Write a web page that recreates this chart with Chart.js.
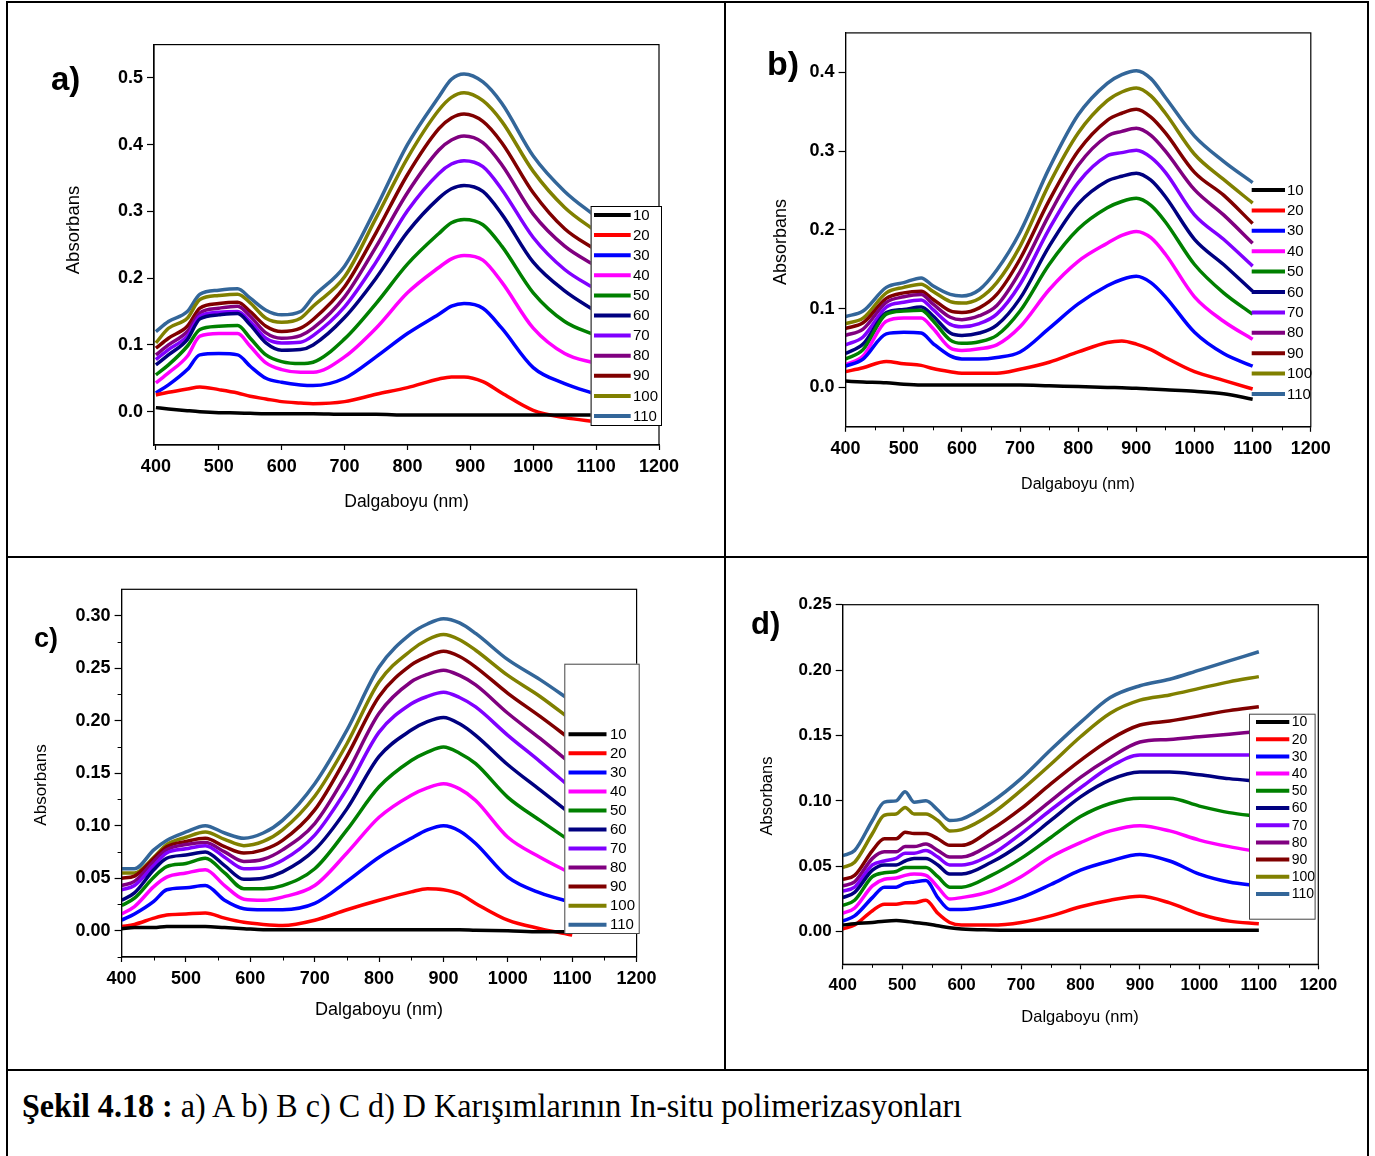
<!DOCTYPE html>
<html>
<head>
<meta charset="utf-8">
<script src="https://cdn.jsdelivr.net/npm/chart.js@4.4.1/dist/chart.umd.min.js"></script>
<style>
  html, body { margin: 0; padding: 0; background: #fff; }
  body { position: relative; width: 1375px; height: 1156px; overflow: hidden; font-family: 'Liberation Sans', Arial, sans-serif; color: #000; }
  canvas { position: absolute; }
  .rule { position: absolute; background: #000; }
  .txt { position: absolute; white-space: nowrap; line-height: 1; }
  .ytitle { transform: translate(-50%, -50%) rotate(-90deg); }
  .xtitle { transform: translate(-50%, -50%); }
  .letter { font-weight: bold; }
  #caption { position: absolute; left: 22px; top: 1090px; font-family: 'Liberation Serif', 'Times New Roman', serif; font-size: 33px; line-height: 1; white-space: nowrap; transform-origin: 0 0; }
</style>
</head>
<body>

<div class="rule" style="left:6px;top:1px;width:2px;height:1155px"></div>
<div class="rule" style="left:6px;top:1px;width:1363px;height:2px"></div>
<div class="rule" style="left:1367px;top:1px;width:2px;height:1155px"></div>
<div class="rule" style="left:724px;top:1px;width:2px;height:1070px"></div>
<div class="rule" style="left:6px;top:556px;width:1363px;height:2px"></div>
<div class="rule" style="left:6px;top:1069px;width:1363px;height:2px"></div>

<canvas id="chartA" width="713" height="551" style="left:10px;top:4px"></canvas>
<canvas id="chartB" width="639" height="551" style="left:727px;top:4px"></canvas>
<canvas id="chartC" width="713" height="509" style="left:10px;top:559px"></canvas>
<canvas id="chartD" width="639" height="509" style="left:727px;top:559px"></canvas>

<div class="txt letter" style="left:51px;top:62px;font-size:33px">a)</div>
<div class="txt letter" style="left:767px;top:46px;font-size:34px">b)</div>
<div class="txt letter" style="left:34px;top:625px;font-size:27px">c)</div>
<div class="txt letter" style="left:751px;top:608px;font-size:31px">d)</div>

<div class="txt ytitle" style="left:72.5px;top:230px;font-size:18.5px">Absorbans</div>
<div class="txt xtitle" style="left:406.5px;top:502px;font-size:17.5px">Dalgaboyu (nm)</div>
<div class="txt ytitle" style="left:780px;top:242px;font-size:18px">Absorbans</div>
<div class="txt xtitle" style="left:1078px;top:484px;font-size:16px">Dalgaboyu (nm)</div>
<div class="txt ytitle" style="left:39.5px;top:785px;font-size:17px">Absorbans</div>
<div class="txt xtitle" style="left:379px;top:1009px;font-size:18px">Dalgaboyu (nm)</div>
<div class="txt ytitle" style="left:765.5px;top:796px;font-size:16.5px">Absorbans</div>
<div class="txt xtitle" style="left:1080px;top:1016px;font-size:16.5px">Dalgaboyu (nm)</div>

<div id="caption"><b>Şekil 4.18 :</b> a) A b) B c) C d) D Karışımlarının In-situ polimerizasyonları</div>

<script>
// Series names (reaction time) and their line colours
const seriesLabels = ['10', '20', '30', '40', '50', '60', '70', '80', '90', '100', '110'];
const seriesColors = ['#000000', '#ff0000', '#0000ff', '#ff00ff', '#008000', '#000080',
                      '#8000ff', '#800080', '#800000', '#808000', '#336699'];

// Tick values
const xTicks = [400, 500, 600, 700, 800, 900, 1000, 1100, 1200];
const xMinor = [450, 550, 650, 750, 850, 950, 1050, 1150];
const yTicksA = [0, 0.1, 0.2, 0.3, 0.4, 0.5];
const yTicksB = [0, 0.1, 0.2, 0.3, 0.4];
const yTicksC = [0, 0.05, 0.10, 0.15, 0.20, 0.25, 0.30];
const yMinorC = [-0.025, 0.025, 0.075, 0.125, 0.175, 0.225, 0.275];
const yTicksD = [0, 0.05, 0.10, 0.15, 0.20, 0.25];

// ---- a) mixture A ----
const wlA = [400, 420, 450, 470, 500, 530, 550, 575, 600, 630, 650, 700, 750, 800, 850, 870, 890, 920, 950, 1000, 1050, 1100];
const a10  = [0.006, 0.004, 0.0015, 0.000, -0.0015, -0.002, -0.0025, -0.003, -0.003, -0.003, -0.003, -0.004, -0.004, -0.005, -0.005, -0.005, -0.005, -0.005, -0.005, -0.005, -0.005, -0.005];
const a20  = [0.025, 0.029, 0.034, 0.037, 0.033, 0.028, 0.023, 0.019, 0.015, 0.013, 0.012, 0.015, 0.026, 0.036, 0.049, 0.052, 0.052, 0.045, 0.028, 0.002, -0.009, -0.015];
const a30  = [0.028, 0.040, 0.063, 0.085, 0.087, 0.085, 0.068, 0.050, 0.044, 0.040, 0.039, 0.050, 0.082, 0.117, 0.146, 0.158, 0.162, 0.155, 0.125, 0.066, 0.042, 0.026];
const a40  = [0.043, 0.058, 0.083, 0.113, 0.117, 0.117, 0.098, 0.073, 0.063, 0.059, 0.059, 0.082, 0.125, 0.178, 0.216, 0.229, 0.234, 0.227, 0.194, 0.125, 0.087, 0.072];
const a50  = [0.055, 0.070, 0.098, 0.123, 0.128, 0.129, 0.110, 0.085, 0.075, 0.072, 0.074, 0.109, 0.162, 0.221, 0.267, 0.283, 0.288, 0.280, 0.248, 0.178, 0.135, 0.114];
const a60  = [0.070, 0.085, 0.108, 0.139, 0.145, 0.147, 0.130, 0.103, 0.092, 0.093, 0.100, 0.141, 0.200, 0.269, 0.320, 0.334, 0.339, 0.330, 0.296, 0.224, 0.181, 0.150];
const a70  = [0.078, 0.093, 0.113, 0.143, 0.149, 0.150, 0.135, 0.110, 0.103, 0.104, 0.114, 0.157, 0.224, 0.301, 0.357, 0.371, 0.376, 0.367, 0.333, 0.261, 0.213, 0.183];
const a80  = [0.085, 0.100, 0.120, 0.148, 0.155, 0.158, 0.143, 0.118, 0.110, 0.114, 0.125, 0.172, 0.247, 0.328, 0.392, 0.407, 0.413, 0.403, 0.370, 0.296, 0.248, 0.218];
const a90  = [0.095, 0.110, 0.128, 0.155, 0.162, 0.164, 0.150, 0.128, 0.120, 0.125, 0.138, 0.187, 0.268, 0.355, 0.424, 0.440, 0.446, 0.435, 0.403, 0.328, 0.274, 0.242];
const a100 = [0.103, 0.125, 0.140, 0.168, 0.174, 0.176, 0.163, 0.140, 0.134, 0.140, 0.158, 0.202, 0.290, 0.380, 0.452, 0.471, 0.478, 0.466, 0.435, 0.360, 0.306, 0.270];
const a110 = [0.120, 0.135, 0.150, 0.176, 0.182, 0.184, 0.170, 0.152, 0.145, 0.150, 0.172, 0.218, 0.305, 0.400, 0.472, 0.498, 0.506, 0.494, 0.462, 0.383, 0.330, 0.292];

// ---- b) mixture B ----
const wlB = [400, 430, 470, 500, 530, 550, 580, 600, 630, 660, 700, 750, 800, 850, 875, 900, 925, 950, 1000, 1050, 1100];
const b10  = [0.008, 0.007, 0.006, 0.004, 0.003, 0.003, 0.003, 0.003, 0.003, 0.003, 0.003, 0.002, 0.001, 0.000, -0.0005, -0.001, -0.002, -0.003, -0.005, -0.008, -0.015];
const b20  = [0.020, 0.025, 0.033, 0.030, 0.028, 0.024, 0.020, 0.018, 0.018, 0.018, 0.023, 0.032, 0.045, 0.057, 0.059, 0.055, 0.048, 0.038, 0.020, 0.009, -0.002];
const b30  = [0.027, 0.036, 0.068, 0.070, 0.069, 0.056, 0.040, 0.036, 0.036, 0.038, 0.045, 0.075, 0.106, 0.129, 0.137, 0.141, 0.133, 0.115, 0.070, 0.043, 0.027];
const b40  = [0.029, 0.040, 0.084, 0.088, 0.088, 0.075, 0.050, 0.047, 0.049, 0.054, 0.077, 0.124, 0.160, 0.183, 0.193, 0.198, 0.190, 0.169, 0.115, 0.084, 0.061];
const b50  = [0.036, 0.048, 0.093, 0.097, 0.098, 0.085, 0.060, 0.056, 0.058, 0.066, 0.097, 0.156, 0.201, 0.228, 0.236, 0.240, 0.231, 0.210, 0.156, 0.120, 0.093];
const b60  = [0.043, 0.055, 0.095, 0.099, 0.102, 0.091, 0.069, 0.066, 0.069, 0.079, 0.113, 0.179, 0.233, 0.262, 0.268, 0.272, 0.263, 0.242, 0.188, 0.156, 0.122];
const b70  = [0.054, 0.064, 0.102, 0.108, 0.111, 0.099, 0.080, 0.077, 0.081, 0.093, 0.131, 0.201, 0.260, 0.294, 0.298, 0.301, 0.292, 0.273, 0.219, 0.188, 0.154];
const b80  = [0.066, 0.074, 0.108, 0.115, 0.118, 0.106, 0.089, 0.086, 0.091, 0.104, 0.147, 0.219, 0.282, 0.319, 0.325, 0.329, 0.320, 0.300, 0.251, 0.219, 0.183];
const b90  = [0.075, 0.082, 0.113, 0.120, 0.122, 0.112, 0.097, 0.095, 0.101, 0.118, 0.163, 0.237, 0.300, 0.339, 0.348, 0.353, 0.343, 0.323, 0.273, 0.244, 0.208];
const b100 = [0.081, 0.088, 0.120, 0.127, 0.131, 0.122, 0.109, 0.107, 0.113, 0.133, 0.179, 0.258, 0.323, 0.364, 0.375, 0.380, 0.370, 0.348, 0.296, 0.264, 0.234];
const b110 = [0.090, 0.097, 0.127, 0.133, 0.139, 0.129, 0.118, 0.116, 0.124, 0.149, 0.197, 0.278, 0.346, 0.386, 0.397, 0.402, 0.392, 0.368, 0.319, 0.287, 0.260];

// ---- c) mixture C ----
const wlC = [400, 420, 450, 470, 500, 530, 560, 590, 620, 650, 700, 750, 800, 850, 875, 900, 925, 950, 1000, 1050, 1100];
const c10  = [0.002, 0.003, 0.003, 0.004, 0.004, 0.004, 0.003, 0.002, 0.001, 0.001, 0.001, 0.001, 0.001, 0.001, 0.001, 0.001, 0.001, 0.0005, 0.000, -0.001, -0.001];
const c20  = [0.004, 0.006, 0.012, 0.015, 0.016, 0.017, 0.012, 0.008, 0.006, 0.005, 0.010, 0.020, 0.029, 0.037, 0.040, 0.039, 0.035, 0.026, 0.010, 0.002, -0.004];
const c30  = [0.010, 0.016, 0.028, 0.039, 0.041, 0.043, 0.029, 0.021, 0.020, 0.020, 0.026, 0.047, 0.070, 0.088, 0.096, 0.100, 0.095, 0.083, 0.051, 0.036, 0.027];
const c40  = [0.016, 0.023, 0.042, 0.051, 0.055, 0.058, 0.043, 0.030, 0.029, 0.032, 0.043, 0.074, 0.108, 0.129, 0.136, 0.140, 0.135, 0.124, 0.089, 0.070, 0.054];
const c50  = [0.024, 0.031, 0.051, 0.061, 0.064, 0.069, 0.055, 0.040, 0.040, 0.043, 0.059, 0.096, 0.137, 0.162, 0.170, 0.175, 0.169, 0.159, 0.127, 0.105, 0.084];
const c60  = [0.029, 0.036, 0.058, 0.069, 0.072, 0.075, 0.062, 0.049, 0.050, 0.056, 0.077, 0.116, 0.166, 0.191, 0.199, 0.203, 0.197, 0.186, 0.158, 0.134, 0.110];
const c70  = [0.039, 0.043, 0.062, 0.074, 0.078, 0.081, 0.070, 0.059, 0.060, 0.067, 0.091, 0.135, 0.189, 0.216, 0.223, 0.227, 0.222, 0.213, 0.186, 0.161, 0.135];
const c80  = [0.043, 0.047, 0.066, 0.077, 0.082, 0.084, 0.075, 0.066, 0.068, 0.077, 0.102, 0.150, 0.207, 0.237, 0.244, 0.248, 0.243, 0.234, 0.207, 0.183, 0.158];
const c90  = [0.050, 0.052, 0.069, 0.080, 0.085, 0.088, 0.080, 0.074, 0.077, 0.086, 0.115, 0.166, 0.223, 0.253, 0.261, 0.266, 0.261, 0.251, 0.226, 0.204, 0.181];
const c100 = [0.055, 0.055, 0.070, 0.082, 0.089, 0.094, 0.087, 0.081, 0.085, 0.096, 0.128, 0.178, 0.237, 0.267, 0.277, 0.282, 0.277, 0.267, 0.243, 0.223, 0.200];
const c110 = [0.059, 0.059, 0.077, 0.086, 0.094, 0.100, 0.093, 0.088, 0.093, 0.105, 0.140, 0.191, 0.251, 0.283, 0.292, 0.297, 0.293, 0.283, 0.258, 0.239, 0.218];

// ---- d) mixture D ----
const wlD = [400, 420, 450, 470, 490, 505, 520, 540, 560, 580, 600, 650, 700, 750, 800, 850, 900, 950, 1000, 1050, 1100];
const d10  = [0.005, 0.006, 0.007, 0.008, 0.0085, 0.008, 0.007, 0.006, 0.0045, 0.003, 0.002, 0.0013, 0.001, 0.001, 0.001, 0.001, 0.001, 0.001, 0.001, 0.001, 0.001];
const d20  = [0.002, 0.005, 0.016, 0.021, 0.021, 0.022, 0.022, 0.024, 0.014, 0.007, 0.005, 0.005, 0.007, 0.012, 0.019, 0.024, 0.027, 0.022, 0.0135, 0.008, 0.006];
const d30  = [0.008, 0.012, 0.026, 0.034, 0.034, 0.037, 0.038, 0.039, 0.026, 0.017, 0.017, 0.020, 0.026, 0.036, 0.047, 0.054, 0.059, 0.054, 0.044, 0.038, 0.035];
const d40  = [0.014, 0.018, 0.035, 0.040, 0.041, 0.043, 0.044, 0.043, 0.034, 0.025, 0.026, 0.031, 0.042, 0.057, 0.068, 0.077, 0.081, 0.077, 0.070, 0.065, 0.061];
const d50  = [0.020, 0.024, 0.042, 0.045, 0.046, 0.049, 0.049, 0.049, 0.042, 0.034, 0.034, 0.043, 0.056, 0.072, 0.088, 0.098, 0.102, 0.102, 0.096, 0.091, 0.088];
const d60  = [0.026, 0.030, 0.047, 0.051, 0.051, 0.054, 0.056, 0.056, 0.051, 0.044, 0.044, 0.053, 0.067, 0.085, 0.103, 0.116, 0.122, 0.122, 0.120, 0.117, 0.115];
const d70  = [0.031, 0.034, 0.051, 0.054, 0.056, 0.060, 0.060, 0.062, 0.057, 0.051, 0.051, 0.059, 0.075, 0.093, 0.110, 0.126, 0.135, 0.135, 0.135, 0.135, 0.135];
const d80  = [0.035, 0.038, 0.056, 0.061, 0.061, 0.065, 0.065, 0.067, 0.062, 0.057, 0.057, 0.067, 0.082, 0.100, 0.118, 0.133, 0.145, 0.147, 0.149, 0.151, 0.153];
const d90  = [0.040, 0.043, 0.062, 0.071, 0.071, 0.076, 0.075, 0.075, 0.071, 0.066, 0.066, 0.078, 0.094, 0.113, 0.131, 0.147, 0.158, 0.161, 0.165, 0.169, 0.172];
const d100 = [0.049, 0.053, 0.075, 0.089, 0.090, 0.095, 0.090, 0.090, 0.085, 0.077, 0.078, 0.090, 0.108, 0.128, 0.149, 0.167, 0.177, 0.181, 0.186, 0.191, 0.195];
const d110 = [0.058, 0.062, 0.085, 0.099, 0.100, 0.107, 0.099, 0.100, 0.093, 0.085, 0.086, 0.099, 0.117, 0.139, 0.160, 0.179, 0.188, 0.193, 0.200, 0.207, 0.214];

const FONT = "'Liberation Sans', Arial, sans-serif";
const X_AXIS_H = 44;

// Draws the closed frame, the minor ticks and the in-plot key
const frameAndKey = {
  id: 'frameAndKey',
  afterDatasetsDraw(chart, args, o) {
    const { ctx, chartArea: a } = chart;
    const xs = chart.scales.x, ys = chart.scales.y;
    ctx.save();
    ctx.strokeStyle = '#000';
    ctx.lineWidth = 1.2;
    ctx.strokeRect(a.left, a.top, a.right - a.left, a.bottom - a.top);
    ctx.lineWidth = 1;
    ctx.beginPath();
    (o.minorX || []).forEach(v => {
      const px = Math.round(xs.getPixelForValue(v)) + 0.5;
      ctx.moveTo(px, a.bottom); ctx.lineTo(px, a.bottom + 3.5);
    });
    (o.minorY || []).forEach(v => {
      const py = Math.round(ys.getPixelForValue(v)) + 0.5;
      ctx.moveTo(a.left, py); ctx.lineTo(a.left - 4, py);
    });
    ctx.stroke();

    const k = o.key;
    if (k.box) {
      ctx.fillStyle = '#fff';
      ctx.fillRect(k.box[0], k.box[1], k.box[2] - k.box[0], k.box[3] - k.box[1]);
      ctx.strokeStyle = k.boxColor || '#000';
      ctx.lineWidth = 1;
      ctx.strokeRect(k.box[0] + 0.5, k.box[1] + 0.5, k.box[2] - k.box[0], k.box[3] - k.box[1]);
    }
    ctx.font = `${k.size}px ${FONT}`;
    ctx.textBaseline = 'middle';
    ctx.textAlign = 'left';
    chart.data.datasets.forEach((ds, i) => {
      const y = k.y0 + i * k.dy;
      ctx.strokeStyle = ds.borderColor;
      ctx.lineWidth = 4;
      ctx.beginPath();
      ctx.moveTo(k.x0, y); ctx.lineTo(k.x1, y);
      ctx.stroke();
      ctx.fillStyle = '#000';
      ctx.fillText(ds.label, k.tx, y + 0.5);
    });
    ctx.restore();
  }
};

function drawPanel(p) {
  const canvas = document.getElementById(p.id);
  const W = canvas.width, H = canvas.height;
  const datasets = p.series.map((vals, i) => ({
    label: seriesLabels[i],
    data: p.wl.map((w, j) => ({ x: w, y: vals[j] })),
    borderColor: seriesColors[i],
    backgroundColor: seriesColors[i],
    borderWidth: 3.5,
    pointRadius: 0,
    cubicInterpolationMode: 'monotone',
    fill: false
  }));
  new Chart(canvas, {
    type: 'line',
    data: { datasets },
    options: {
      responsive: false,
      animation: false,
      events: [],
      layout: { padding: { left: 0, top: p.area.t, right: W - p.area.r, bottom: H - p.area.b - X_AXIS_H } },
      plugins: {
        legend: { display: false },
        tooltip: { enabled: false },
        frameAndKey: { key: p.key, minorX: p.minorX, minorY: p.minorY }
      },
      scales: {
        x: {
          type: 'linear', min: p.xMin, max: 1200,
          afterFit: s => { s.height = X_AXIS_H; },
          afterBuildTicks: s => { s.ticks = xTicks.map(v => ({ value: v })); },
          grid: { drawOnChartArea: false, drawTicks: true, tickLength: 5, color: '#000', tickWidth: 1.2 },
          border: { display: true, color: '#000', width: 1.2 },
          ticks: { color: '#000', padding: 6, maxRotation: 0, autoSkip: false,
                   font: { family: FONT, size: p.tickSize, weight: 'bold' },
                   callback: v => String(v) }
        },
        y: {
          type: 'linear', min: p.yMin, max: p.yMax,
          afterFit: s => { s.width = p.area.l; },
          afterBuildTicks: s => { s.ticks = p.yTicks.map(v => ({ value: v })); },
          grid: { drawOnChartArea: false, drawTicks: true, tickLength: 7, color: '#000', tickWidth: 1.2 },
          border: { display: true, color: '#000', width: 1.2 },
          ticks: { color: '#000', padding: 4, autoSkip: false,
                   font: { family: FONT, size: p.tickSize, weight: 'bold' },
                   callback: v => Number(v).toFixed(p.decimals) }
        }
      }
    },
    plugins: [frameAndKey]
  });
}

// Panel a: canvas at (10,4)
drawPanel({
  id: 'chartA', wl: wlA, series: [a10, a20, a30, a40, a50, a60, a70, a80, a90, a100, a110],
  area: { l: 144, t: 40.6, r: 649, b: 441 }, xMin: 397, yMin: -0.05, yMax: 0.55,
  yTicks: yTicksA, decimals: 1, tickSize: 18, minorX: [], minorY: [],
  key: { box: [580.6, 202, 651, 421], x0: 584, x1: 620.7, tx: 623, y0: 211, dy: 20.1, size: 15 }
});

// Panel b: canvas at (727,4)
drawPanel({
  id: 'chartB', wl: wlB, series: [b10, b20, b30, b40, b50, b60, b70, b80, b90, b100, b110],
  area: { l: 118.6, t: 28.9, r: 583.8, b: 422.8 }, xMin: 400, yMin: -0.05, yMax: 0.45,
  yTicks: yTicksB, decimals: 1, tickSize: 18, minorX: xMinor, minorY: [],
  key: { box: null, x0: 524.7, x1: 558, tx: 560, y0: 186, dy: 20.4, size: 15 }
});

// Panel c: canvas at (10,559)
drawPanel({
  id: 'chartC', wl: wlC, series: [c10, c20, c30, c40, c50, c60, c70, c80, c90, c100, c110],
  area: { l: 111.6, t: 30.3, r: 626.6, b: 398 }, xMin: 400, yMin: -0.025, yMax: 0.325,
  yTicks: yTicksC, decimals: 2, tickSize: 18, minorX: xMinor, minorY: yMinorC,
  key: { box: [554.3, 104.7, 628.7, 374], boxColor: '#444', x0: 558.5, x1: 596.5, tx: 600, y0: 175.3, dy: 19.04, size: 15 }
});

// Panel d: canvas at (727,559)
drawPanel({
  id: 'chartD', wl: wlD, series: [d10, d20, d30, d40, d50, d60, d70, d80, d90, d100, d110],
  area: { l: 115.7, t: 45.7, r: 591.3, b: 405.3 }, xMin: 400, yMin: -0.025, yMax: 0.25,
  yTicks: yTicksD, decimals: 2, tickSize: 17, minorX: xMinor, minorY: [],
  key: { box: [522, 154.7, 587.6, 359.7], boxColor: '#444', x0: 529, x1: 562.3, tx: 564.7, y0: 163, dy: 17.2, size: 14 }
});

// Caption fitted to its line width
const cap = document.getElementById('caption');
const kx = 940 / cap.getBoundingClientRect().width;
cap.style.transform = `scale(${kx.toFixed(4)}, 1)`;
</script>
</body>
</html>
